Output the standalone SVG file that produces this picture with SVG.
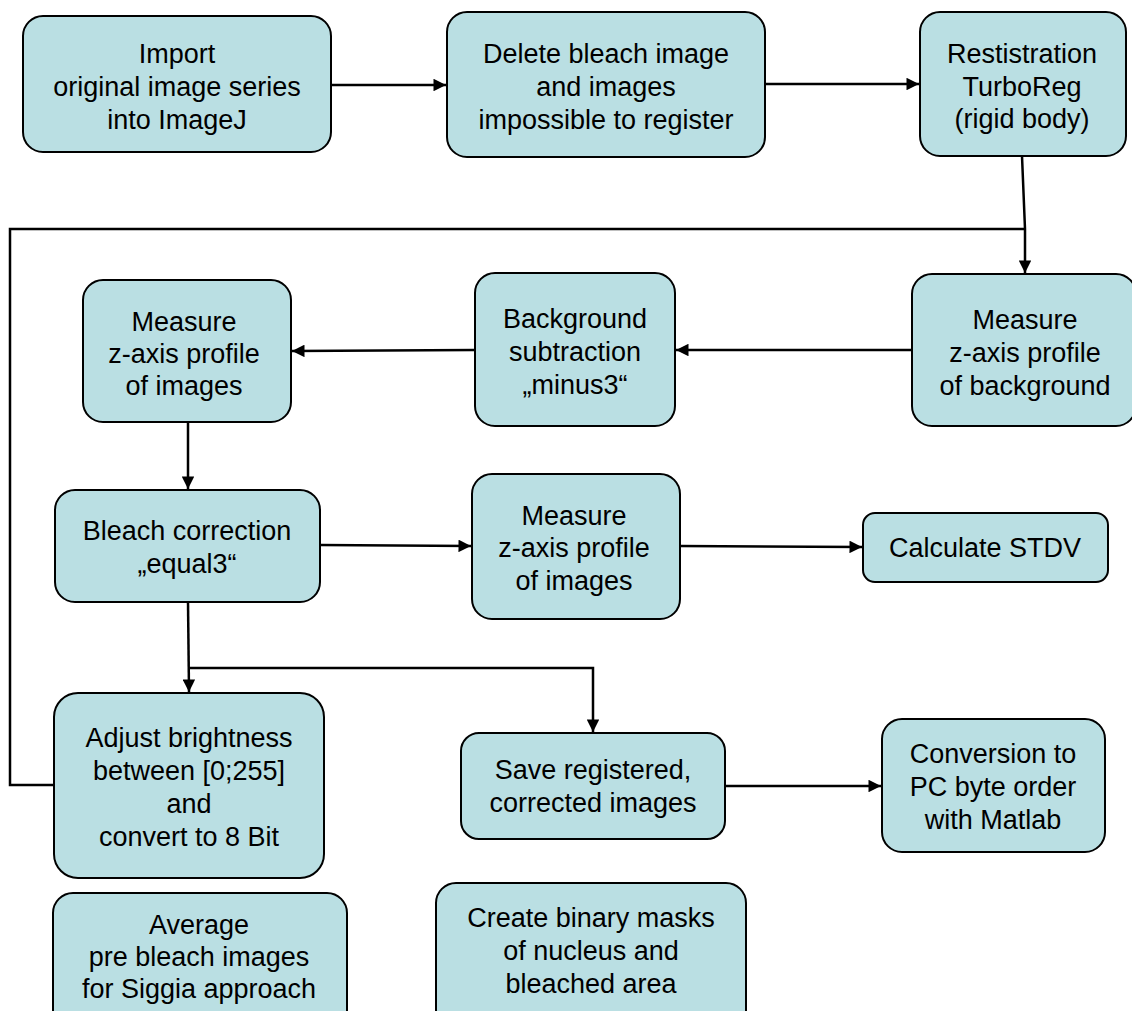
<svg xmlns="http://www.w3.org/2000/svg" width="1132" height="1011" viewBox="0 0 1132 1011">
  <style>
    .box { fill: #badfe3; stroke: #000; stroke-width: 2; }
    .lbl { font-family: "Liberation Sans", Arial, sans-serif; font-size: 27px; fill: #000; text-anchor: middle; }
    .wire { fill: none; stroke: #000; stroke-width: 2.5; }
  </style>
  <defs>
    <marker id="arrow" viewBox="0 0 10 10" refX="10" refY="5" markerWidth="5.6" markerHeight="5" markerUnits="strokeWidth" orient="auto">
      <path d="M0,0 L10,5 L0,10 Z" fill="#000"/>
    </marker>
  </defs>

  <rect width="1132" height="1011" fill="#fff"/>

  <!-- connectors -->
  <g id="connectors">
    <line class="wire" x1="331" y1="85" x2="446" y2="85" marker-end="url(#arrow)"/>
    <line class="wire" x1="765" y1="84" x2="919" y2="84" marker-end="url(#arrow)"/>
    <polyline class="wire" points="1022,156 1025,229 1025,273" marker-end="url(#arrow)"/>
    <polyline class="wire" points="54,785 10,785 10,229 1025,229"/>
    <line class="wire" x1="912" y1="350" x2="676" y2="350" marker-end="url(#arrow)"/>
    <line class="wire" x1="475" y1="350" x2="292" y2="351" marker-end="url(#arrow)"/>
    <line class="wire" x1="188" y1="422" x2="188" y2="489" marker-end="url(#arrow)"/>
    <line class="wire" x1="320" y1="545" x2="471" y2="546" marker-end="url(#arrow)"/>
    <line class="wire" x1="680" y1="546" x2="862" y2="547" marker-end="url(#arrow)"/>
    <line class="wire" x1="188" y1="602" x2="189" y2="692" marker-end="url(#arrow)"/>
    <polyline class="wire" points="188,668 593,668 593,732" marker-end="url(#arrow)"/>
    <line class="wire" x1="725" y1="786" x2="881" y2="786" marker-end="url(#arrow)"/>
  </g>

  <!-- nodes -->
  <g id="import">
    <rect class="box" x="23" y="16" width="308" height="136" rx="20"/>
    <text class="lbl" x="177" y="63">Import</text>
    <text class="lbl" x="177" y="96">original image series</text>
    <text class="lbl" x="177" y="129">into ImageJ</text>
  </g>
  <g id="delete">
    <rect class="box" x="447" y="12" width="318" height="145" rx="20"/>
    <text class="lbl" x="606" y="63">Delete bleach image</text>
    <text class="lbl" x="606" y="96">and images</text>
    <text class="lbl" x="606" y="129">impossible to register</text>
  </g>
  <g id="registration">
    <rect class="box" x="920" y="12" width="206" height="144" rx="20"/>
    <text class="lbl" x="1022" y="63">Restistration</text>
    <text class="lbl" x="1022" y="96">TurboReg</text>
    <text class="lbl" x="1022" y="128">(rigid body)</text>
  </g>
  <g id="measure-background">
    <rect class="box" x="912" y="274" width="224" height="152" rx="20"/>
    <text class="lbl" x="1025" y="329">Measure</text>
    <text class="lbl" x="1025" y="362">z-axis profile</text>
    <text class="lbl" x="1025" y="395">of background</text>
  </g>
  <g id="background-subtraction">
    <rect class="box" x="475" y="273" width="200" height="153" rx="20"/>
    <text class="lbl" x="575" y="328">Background</text>
    <text class="lbl" x="575" y="361">subtraction</text>
    <text class="lbl" x="575" y="394">„minus3“</text>
  </g>
  <g id="measure-images">
    <rect class="box" x="83" y="280" width="208" height="142" rx="20"/>
    <text class="lbl" x="184" y="331">Measure</text>
    <text class="lbl" x="184" y="363">z-axis profile</text>
    <text class="lbl" x="184" y="395">of images</text>
  </g>
  <g id="bleach-correction">
    <rect class="box" x="55" y="490" width="265" height="112" rx="20"/>
    <text class="lbl" x="187" y="540">Bleach correction</text>
    <text class="lbl" x="187" y="573">„equal3“</text>
  </g>
  <g id="measure-corrected">
    <rect class="box" x="472" y="474" width="208" height="145" rx="20"/>
    <text class="lbl" x="574" y="525">Measure</text>
    <text class="lbl" x="574" y="557">z-axis profile</text>
    <text class="lbl" x="574" y="590">of images</text>
  </g>
  <g id="calculate-stdv">
    <rect class="box" x="863" y="513" width="245" height="69" rx="12"/>
    <text class="lbl" x="985" y="557">Calculate STDV</text>
  </g>
  <g id="adjust-brightness">
    <rect class="box" x="54" y="693" width="270" height="185" rx="24"/>
    <text class="lbl" x="189" y="747">Adjust brightness</text>
    <text class="lbl" x="189" y="780">between [0;255]</text>
    <text class="lbl" x="189" y="813">and</text>
    <text class="lbl" x="189" y="846">convert to 8 Bit</text>
  </g>
  <g id="average">
    <rect class="box" x="53" y="893" width="294" height="140" rx="20"/>
    <text class="lbl" x="199" y="934">Average</text>
    <text class="lbl" x="199" y="966">pre bleach images</text>
    <text class="lbl" x="199" y="998">for Siggia approach</text>
  </g>
  <g id="save-images">
    <rect class="box" x="461" y="733" width="264" height="106" rx="18"/>
    <text class="lbl" x="593" y="779">Save registered,</text>
    <text class="lbl" x="593" y="812">corrected images</text>
  </g>
  <g id="conversion">
    <rect class="box" x="882" y="719" width="223" height="133" rx="20"/>
    <text class="lbl" x="993" y="763">Conversion to</text>
    <text class="lbl" x="993" y="796">PC byte order</text>
    <text class="lbl" x="993" y="829">with Matlab</text>
  </g>
  <g id="binary-masks">
    <rect class="box" x="436" y="883" width="310" height="150" rx="20"/>
    <text class="lbl" x="591" y="927">Create binary masks</text>
    <text class="lbl" x="591" y="960">of nucleus and</text>
    <text class="lbl" x="591" y="993">bleached area</text>
  </g>
</svg>
